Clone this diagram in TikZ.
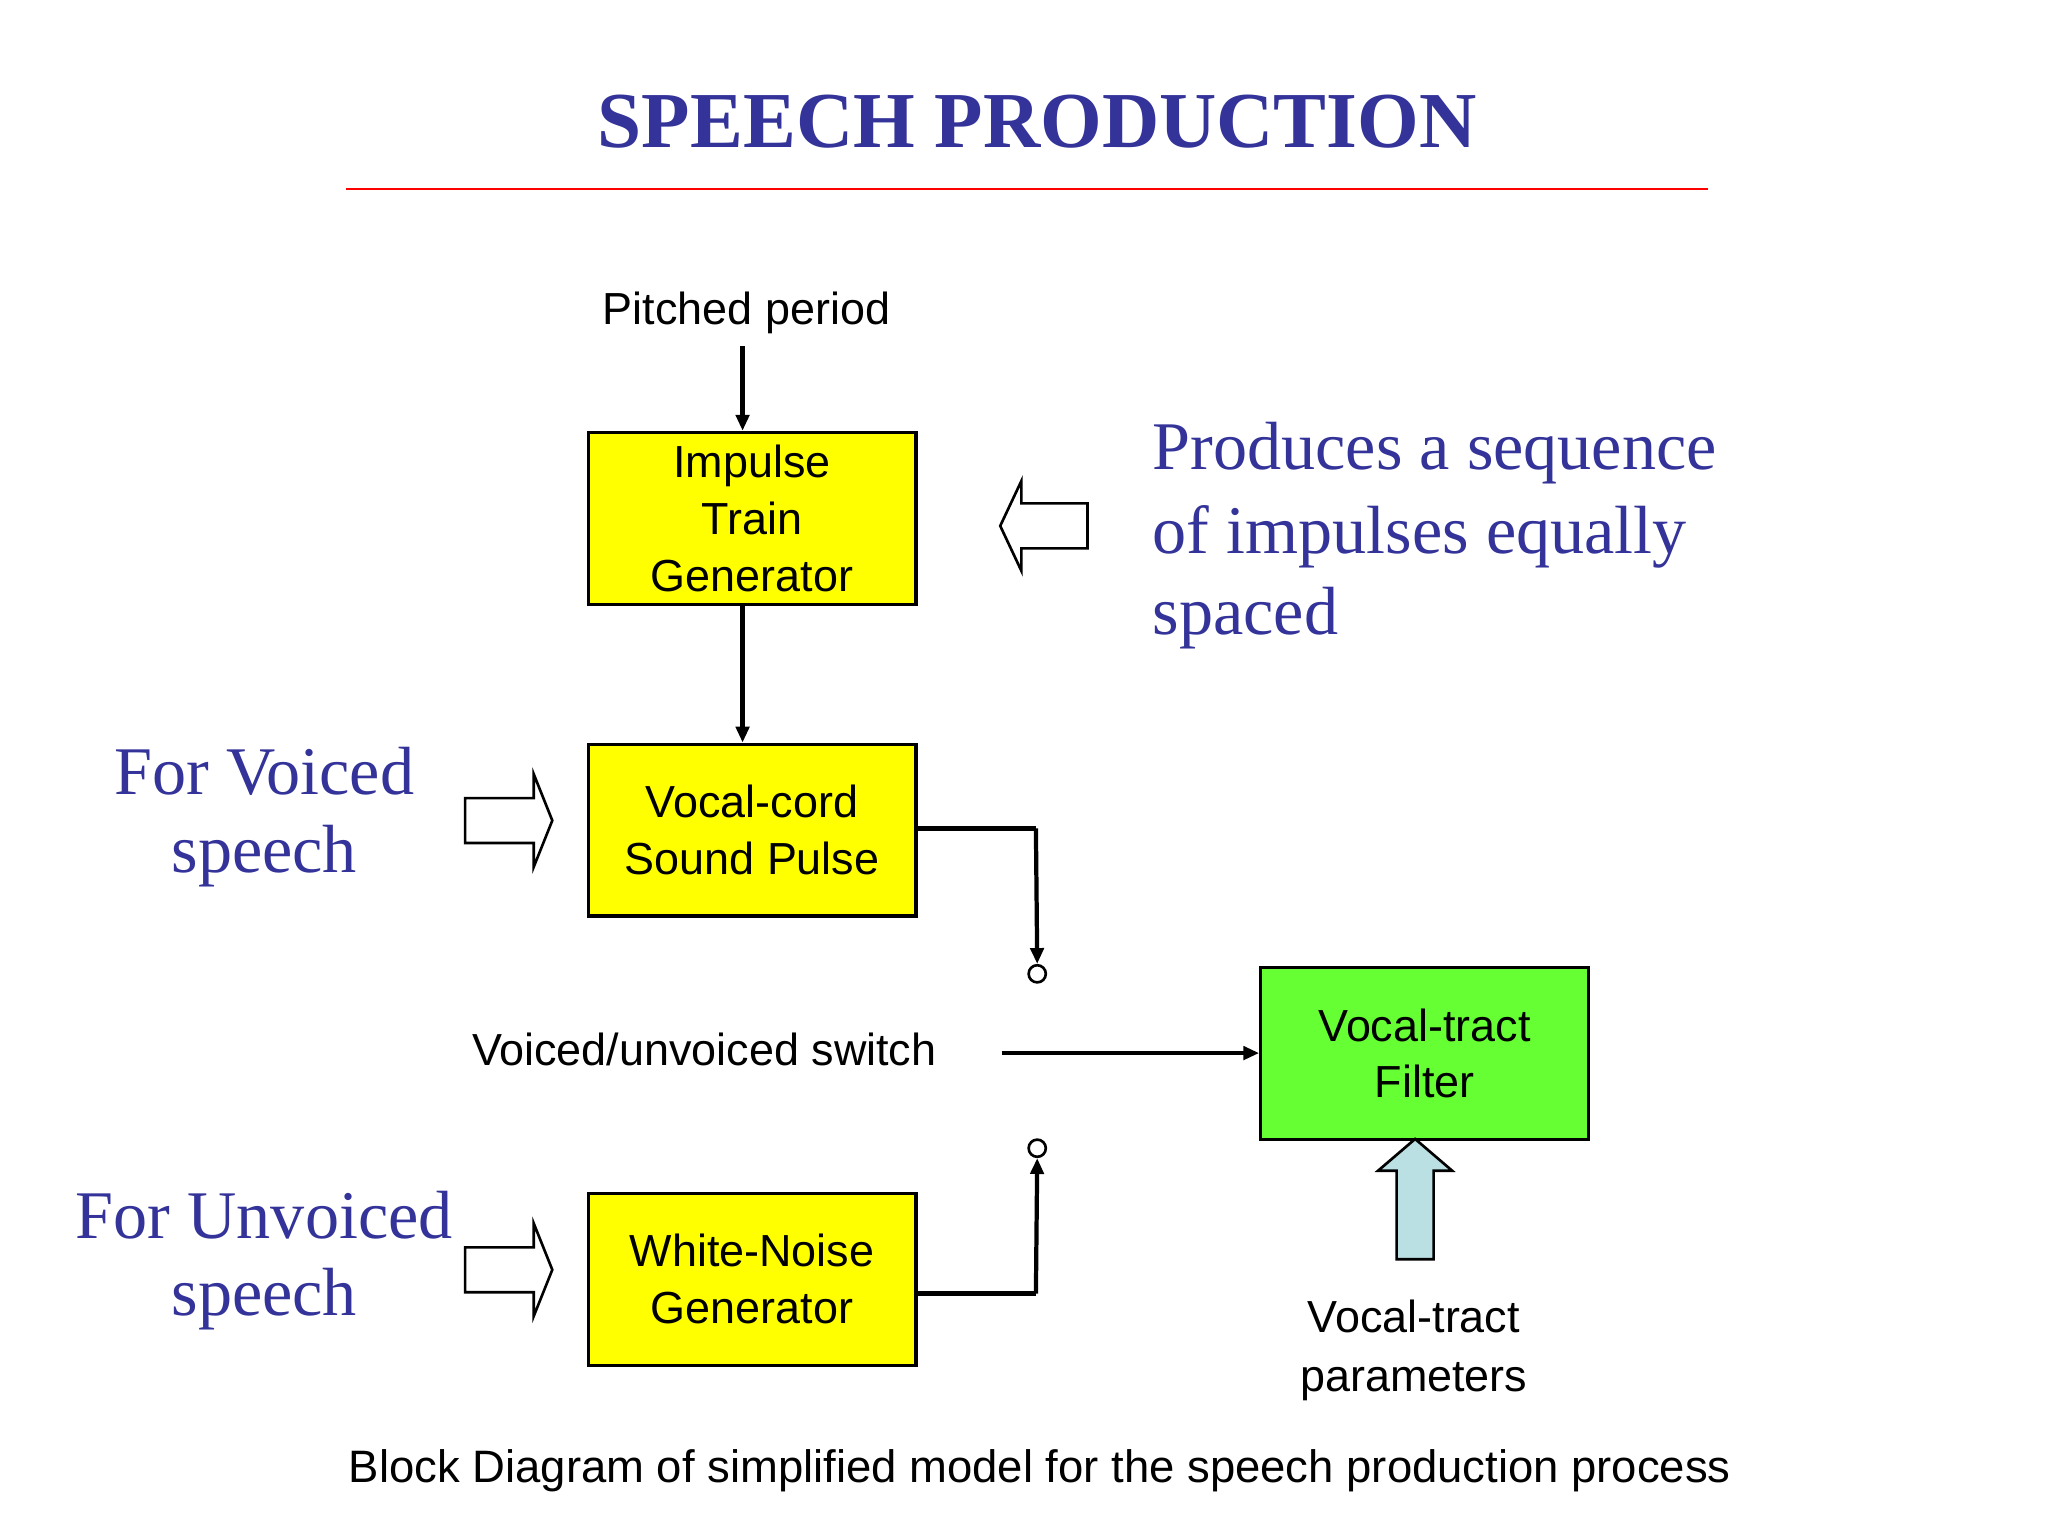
\documentclass[tikz,border=0pt]{standalone}
\usepackage{fontspec}
\setmainfont{Liberation Sans}
\newfontfamily\serif{Liberation Serif}
\usetikzlibrary{arrows.meta}
\definecolor{navy}{RGB}{51,51,153}
\definecolor{yel}{RGB}{255,255,0}
\definecolor{grn}{RGB}{102,255,51}
\definecolor{lblue}{RGB}{187,224,227}
\begin{document}
\begin{tikzpicture}[x=0.5pt,y=-0.5pt,
  box/.style={draw,line width=1.2pt,fill=yel,minimum width=124pt,minimum height=65pt,inner sep=0pt,align=center,font=\fontsize{17}{21.5}\selectfont,anchor=north west},
  lbl/.style={font=\fontsize{17}{22}\selectfont,align=center,inner sep=0pt},
  blue/.style={text=navy,font=\serif\fontsize{25.8}{31.5}\selectfont,inner sep=0pt},
  arr/.style={line width=1.6pt,-{Triangle[length=6pt,width=5pt]}},
  ln/.style={line width=1.6pt},
  hollow/.style={draw,line width=1pt,fill=white}]
\useasboundingbox (0,0) rectangle (1550,1162);
\fill[white] (0,0) rectangle (1550,1162);
\node[text=navy,font=\serif\bfseries\fontsize{30}{34}\selectfont] (title) at (785,92) {SPEECH PRODUCTION};
\coordinate (rl) at (262,143); \coordinate (rr) at (1293,143);
\draw[red,line width=1pt] (rl) -- (rr);
\node[lbl] (pp) at (565,237) {Pitched period};
\node[box] (itg) at (444,326) {Impulse\\Train\\Generator};
\node[box] (vcs) at (444,562) {Vocal-cord\\Sound Pulse};
\node[box] (wng) at (444,902) {White-Noise\\Generator};
\node[box,fill=grn] (vtf) at (953,731) {Vocal-tract\\Filter};
\coordinate (ppb) at (562,262);
\draw[arr] (ppb) -- (ppb|-itg.north);
\draw[arr] (562,457) -- (562,562);
\node[draw,circle,line width=1pt,minimum size=6.5pt,inner sep=0pt] (c1) at (785,737) {};
\node[draw,circle,line width=1pt,minimum size=6.5pt,inner sep=0pt] (c2) at (785,869) {};
\coordinate (v1) at (784,627);
\draw[ln] (vcs.east|-v1) -- (v1);
\draw[arr] (v1) -- (c1.north);
\coordinate (w1) at (784,979);
\draw[ln] (wng.east|-w1) -- (w1);
\draw[arr] (w1) -- (c2.south);
\coordinate (sw) at (758,797);
\draw[arr] (sw) -- (vtf.west|-sw);
\node[lbl] (vus) at (533,794) {Voiced/unvoiced switch};
\node[lbl,font=\fontsize{17}{22}\selectfont] (vtp) at (1070,1022) {Vocal-tract\\parameters};
\node[lbl,font=\fontsize{17.2}{20}\selectfont] (cap) at (787,1113) {Block Diagram of simplified model for the speech production process};
% hollow arrows
\draw[hollow] (352,604) -- (404,604) -- (404,586) -- (418,621) -- (404,656) -- (404,638) -- (352,638) -- cycle;
\draw[hollow] (352,944) -- (404,944) -- (404,926) -- (418,961) -- (404,996) -- (404,978) -- (352,978) -- cycle;
\draw[hollow] (823,381) -- (773,381) -- (773,364) -- (757,398) -- (773,432) -- (773,415) -- (823,415) -- cycle;
\draw[hollow,fill=lblue] (1057,953) -- (1057,886) -- (1043,886) -- (1071,862) -- (1099,886) -- (1085,886) -- (1085,953) -- cycle;
% blue texts
\node[blue] (fv1) at (200,584) {For Voiced};
\node[blue] (fv2) at (200,648) {speech};
\node[blue] (fu1) at (200,920) {For Unvoiced};
\node[blue] (fu2) at (200,983) {speech};
\node[blue,anchor=west] (p1) at (872,343) {Produces a sequence};
\node[blue,anchor=west] (p2) at (872,406) {of impulses equally};
\node[blue,anchor=west] (p3) at (872,468) {spaced};
\end{tikzpicture}
\end{document}
